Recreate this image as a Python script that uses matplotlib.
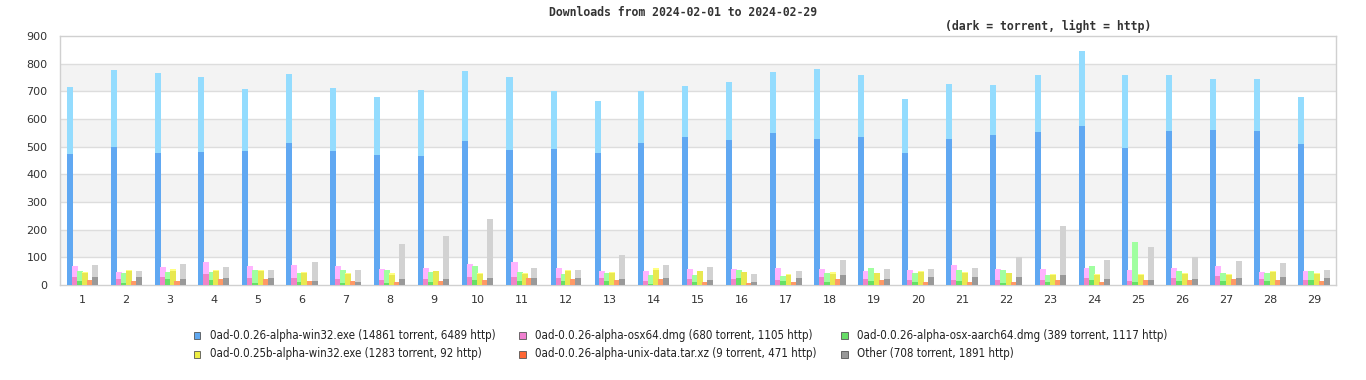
import numpy as np
import matplotlib
matplotlib.use("Agg")
import matplotlib.pyplot as plt
from matplotlib.patches import Rectangle
from matplotlib import font_manager

days = list(range(1, 30))

series = [
    "0ad-0.0.26-alpha-win32.exe (14861 torrent, 6489 http)",
    "0ad-0.0.26-alpha-osx64.dmg (680 torrent, 1105 http)",
    "0ad-0.0.26-alpha-osx-aarch64.dmg (389 torrent, 1117 http)",
    "0ad-0.0.25b-alpha-win32.exe (1283 torrent, 92 http)",
    "0ad-0.0.26-alpha-unix-data.tar.xz (9 torrent, 471 http)",
    "Other (708 torrent, 1891 http)",
]

win32_torrent = [473, 498, 476, 480, 484, 513, 484, 469, 466, 520, 487, 491, 476, 513, 534,
                 523, 549, 527, 534, 476, 527, 542, 552, 574, 495, 556, 560, 556, 509]
win32_http = [243, 279, 290, 272, 224, 250, 228, 211, 239, 253, 265, 210, 189, 188, 185,
              211, 221, 254, 225, 196, 200, 181, 207, 272, 264, 203, 185, 189, 171]

osx64_torrent = [29, 22, 29, 40, 26, 26, 22, 18, 22, 29, 29, 26, 26, 15, 22,
                 22, 18, 29, 22, 18, 18, 18, 18, 26, 15, 26, 33, 22, 18]
osx64_http = [40, 25, 36, 43, 43, 46, 47, 40, 39, 47, 54, 35, 25, 36, 36,
              36, 43, 29, 29, 36, 54, 40, 40, 35, 39, 35, 36, 25, 33]

aarch64_torrent = [15, 8, 22, 18, 8, 11, 8, 8, 11, 18, 15, 15, 15, 4, 11,
                   26, 15, 11, 15, 11, 15, 8, 11, 18, 11, 15, 15, 15, 18]
aarch64_http = [36, 35, 25, 29, 46, 32, 46, 46, 36, 51, 32, 25, 28, 32, 25,
                28, 18, 32, 46, 32, 39, 46, 25, 51, 144, 36, 28, 28, 33]

old_win32_torrent = [42, 52, 50, 50, 50, 43, 39, 37, 49, 39, 39, 50, 43, 55, 49,
                     46, 37, 41, 42, 46, 43, 42, 37, 37, 37, 41, 36, 48, 41]
old_win32_http = [5, 2, 7, 4, 4, 4, 4, 6, 2, 4, 4, 4, 4, 6, 2,
                  1, 3, 5, 1, 5, 4, 1, 3, 3, 3, 2, 4, 3, 2]

unix_torrent = [0, 1, 0, 0, 1, 0, 0, 0, 1, 0, 0, 1, 0, 0, 1,
                0, 0, 1, 0, 0, 0, 1, 0, 0, 1, 0, 0, 1, 0]
unix_http = [18, 13, 14, 22, 21, 14, 14, 11, 13, 18, 25, 21, 18, 22, 10,
             7, 11, 21, 18, 11, 11, 10, 18, 11, 17, 18, 22, 17, 14]

other_torrent = [29, 29, 22, 26, 26, 15, 11, 22, 22, 26, 26, 26, 22, 26, 18,
                 11, 26, 37, 22, 29, 29, 29, 37, 22, 18, 22, 26, 29, 26]
other_http = [43, 22, 54, 39, 28, 68, 43, 126, 155, 213, 35, 28, 86, 46, 47,
              29, 25, 53, 36, 29, 32, 72, 176, 68, 119, 79, 61, 51, 28]

torrent = [win32_torrent, osx64_torrent, aarch64_torrent, old_win32_torrent, unix_torrent, other_torrent]
http = [win32_http, osx64_http, aarch64_http, old_win32_http, unix_http, other_http]

dark = ["#60a8f2", "#f084c8", "#66e066", "#e8e850", "#ff8c5a", "#999999"]
light = ["#94dcfe", "#ffb4ff", "#a0ffa0", "#ffff80", "#ff9966", "#d2d2d2"]
legend_col = ["#60a8f0", "#f080d0", "#66dd66", "#eeee44", "#ff6633", "#999999"]

# narrow font for the legend if one is installed
legend_font = dict(family="DejaVu Sans", fontsize=7.6)
try:
    fp = font_manager.FontProperties(family="DejaVu Sans", stretch="condensed")
    path = font_manager.findfont(fp, fallback_to_default=False)
    if "Condensed" in path:
        legend_font = dict(family="DejaVu Sans", stretch="condensed", fontsize=8.3)
except Exception:
    pass

fig = plt.figure(figsize=(13.66, 3.80), dpi=100)
ax = fig.add_axes([60 / 1366, 95 / 380, 1276 / 1366, 249 / 380])

x = np.arange(len(days))
step = 5 / 44
width = 6 / 44
for i in range(6):
    pos = x + (i - 2.5) * step
    t = np.array(torrent[i])
    h = np.array(http[i])
    ax.bar(pos, t, width=width, color=dark[i], linewidth=0, zorder=3)
    ax.bar(pos, h, bottom=t, width=width, color=light[i], linewidth=0, zorder=3)

# alternating bands
for lo in range(100, 900, 200):
    ax.axhspan(lo, lo + 100, color="#f3f3f3", zorder=0, linewidth=0)
for v in range(100, 900, 100):
    ax.axhline(v, color="#dddddd", linewidth=1, zorder=1)

ax.set_xlim(-0.5, len(days) - 0.5)
ax.set_ylim(0, 900)
ax.set_yticks(range(0, 1000, 100))
ax.set_xticks(x)
ax.set_xticklabels([str(d) for d in days])
ax.tick_params(axis="both", length=0, labelsize=8, labelcolor="#333333")
ax.tick_params(axis="x", pad=7)
ax.tick_params(axis="y", pad=9)
for s in ax.spines.values():
    s.set_color("#d0d0d0")
    s.set_linewidth(1)

fig.text(683 / 1366, 1 - 13 / 380, "Downloads from 2024-02-01 to 2024-02-29",
         ha="center", va="center", family="DejaVu Sans Mono", weight="bold",
         fontsize=8.3, color="#333333")
fig.text(1048 / 1366, 1 - 26 / 380, "(dark = torrent, light = http)",
         ha="center", va="center", family="DejaVu Sans Mono", weight="bold",
         fontsize=8.3, color="#333333")

# legend, 3 columns x 2 rows
col_x = [197, 522, 844]
row_y = [335, 354]
for i, name in enumerate(series):
    cx = col_x[i % 3]
    cy = row_y[i // 3]
    fig.patches.append(Rectangle(((cx - 3.5) / 1366, 1 - (cy + 3.5) / 380), 7 / 1366, 7 / 380,
                                 transform=fig.transFigure, facecolor=legend_col[i],
                                 edgecolor="#555555", linewidth=0.6))
    fig.text((cx + 13) / 1366, 1 - cy / 380, name, ha="left", va="center",
             color="#222222", **legend_font)

fig.savefig("out.png", dpi=100)
